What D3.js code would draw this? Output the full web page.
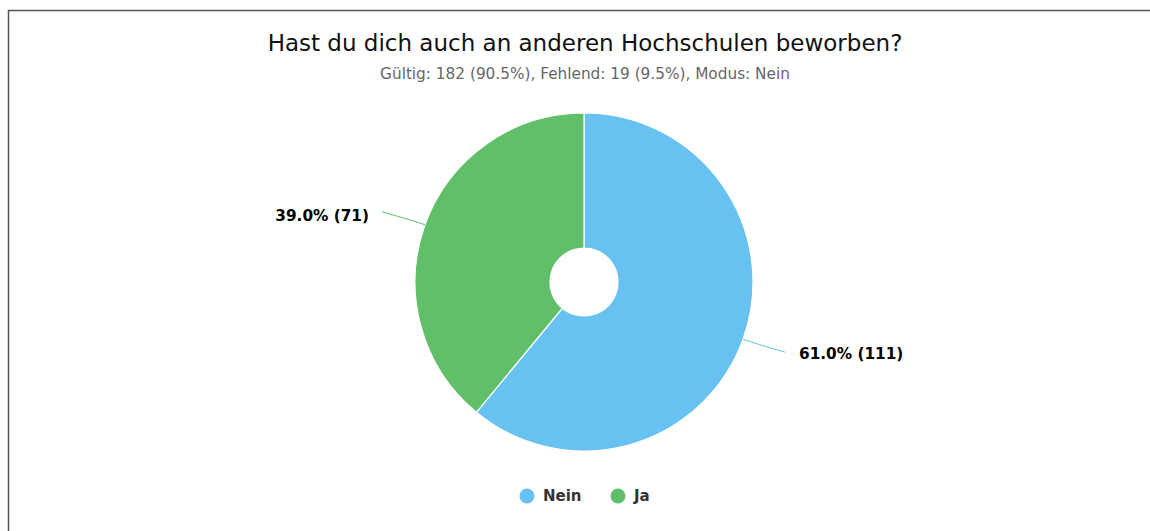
<!DOCTYPE html>
<html>
<head>
<meta charset="utf-8">
<script src="https://cdn.jsdelivr.net/npm/d3@7"></script>
<style>
  body { margin: 0; background: #fff; font-family: "DejaVu Sans", sans-serif; }
</style>
</head>
<body>
<script>
const categories = ["Nein", "Ja"];
const counts = [111, 71];
const colors = ["#67c1f1", "#62bf69"];
const titleText = "Hast du dich auch an anderen Hochschulen beworben?";
const subtitleText = "Gültig: 182 (90.5%), Fehlend: 19 (9.5%), Modus: Nein";

const width = 1150, height = 531;
const cx = 584, cy = 282, r = 169, r0 = 34;

const svg = d3.select("body").append("svg").attr("width", width).attr("height", height);

// frame
svg.append("path")
  .attr("d", `M8.5,${height} V10.5 H${width}`)
  .attr("fill", "none").attr("stroke", "#555").attr("stroke-width", 1.5);

svg.append("text").attr("x", cx + 1).attr("y", 51).attr("text-anchor", "middle")
  .attr("font-size", 23).attr("fill", "#111").text(titleText);
svg.append("text").attr("x", cx + 1).attr("y", 79).attr("text-anchor", "middle")
  .attr("font-size", 15.3).attr("fill", "#666").text(subtitleText);

const total = d3.sum(counts);
const data = categories.map((c, i) => ({ name: c, value: counts[i], color: colors[i] }));
const pie = d3.pie().value(d => d.value).sort(null);
const arcs = pie(data);
const arc = d3.arc().innerRadius(r0).outerRadius(r);

const g = svg.append("g").attr("transform", `translate(${cx},${cy})`);
g.selectAll("path.slice").data(arcs).enter().append("path")
  .attr("class", "slice")
  .attr("d", arc)
  .attr("fill", d => d.data.color)
  .attr("stroke", "#fff").attr("stroke-width", 1.2);

// labels with connectors
arcs.forEach(a => {
  const mid = (a.startAngle + a.endAngle) / 2;
  const sx = Math.sin(mid), sy = -Math.cos(mid);
  const p0 = [r * sx, r * sy];
  const right = sx >= 0;
  const p1 = [(r + 12) * sx, (r + 12) * sy];
  const p2 = [p0[0] + (right ? 42 : -43), p0[1] + (right ? 13 : -13)];
  g.append("path")
    .attr("d", `M${p0[0]},${p0[1]} Q${p1[0]},${p1[1]} ${p2[0]},${p2[1]}`)
    .attr("fill", "none").attr("stroke", a.data.color).attr("stroke-width", 1);
  const pct = (a.data.value / total * 100).toFixed(1);
  g.append("text")
    .attr("x", p2[0] + (right ? 14 : -13))
    .attr("y", p2[1] + (right ? 7 : 9))
    .attr("text-anchor", right ? "start" : "end")
    .attr("font-size", 15.3).attr("font-weight", "bold").attr("fill", "#000")
    .text(`${pct}% (${a.data.value})`);
});

// legend
const legendX = [527, 618];
const lg = svg.append("g");
data.forEach((d, i) => {
  lg.append("circle").attr("cx", legendX[i]).attr("cy", 496).attr("r", 7.5).attr("fill", d.color);
  lg.append("text").attr("x", legendX[i] + 16).attr("y", 501)
    .attr("font-size", 15).attr("font-weight", "bold").attr("fill", "#333").text(d.name);
});
</script>
</body>
</html>
